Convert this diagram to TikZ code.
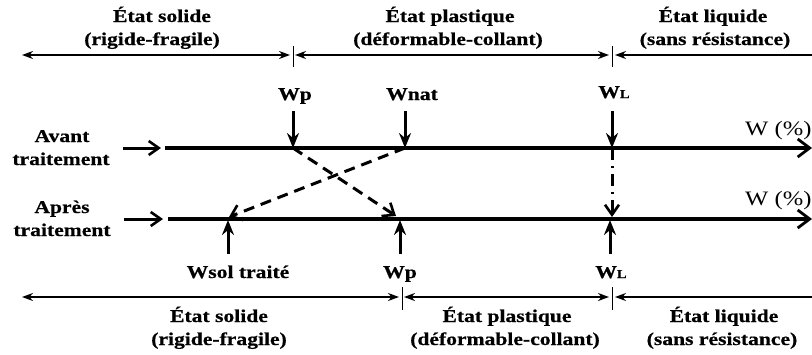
\documentclass[tikz,border=0pt]{standalone}
\usepackage{fontspec}
\setmainfont{Liberation Serif}[FakeStretch=1.2, BoldFeatures={FakeBold=0.6}]
\usetikzlibrary{arrows.meta}
\begin{document}
\begin{tikzpicture}[x=1pt,y=-1pt,
  txt/.style={font=\fontsize{18}{20}\selectfont\bfseries, inner sep=0pt, anchor=base},
  wtxt/.style={font=\fontsize{20.5}{22}\selectfont, inner sep=0pt, anchor=base west},
  axisline/.style={line width=4pt, -{Straight Barb[length=12pt,width=18pt,line width=2.8pt]}},
  statearr/.style={line width=1.8pt, {Stealth[length=11pt,width=8pt]}-{Stealth[length=11pt,width=8pt]}},
  leftstate/.style={line width=1.8pt, {Stealth[length=11pt,width=8pt]}-},
  tickline/.style={line width=1pt},
  markarr/.style={line width=3pt, -{Stealth[length=15pt,width=12pt,inset=5pt]}},
  inarr/.style={line width=3pt, -{Straight Barb[length=10pt,width=14pt,line width=2.6pt]}},
  dasharr/.style={line width=3pt, dash pattern=on 11pt off 7pt, -{Straight Barb[length=10pt,width=16pt,line width=2.6pt]}},
  dotarr/.style={line width=3pt, dash pattern=on 12pt off 6pt on 2pt off 6pt, -{Straight Barb[length=10pt,width=14pt,line width=2.6pt]}},
]
\useasboundingbox (0,0) rectangle (812,354);

% ---------- top state labels ----------
\node[txt] (ts1) at (162,22) {État solide};
\node[txt] (ts2) at (152,45) {(rigide-fragile)};
\node[txt] (tp1) at (450,22) {État plastique};
\node[txt] (tp2) at (448,45) {(déformable-collant)};
\node[txt] (tl1) at (713,22) {État liquide};
\node[txt] (tl2) at (715,45) {(sans résistance)};

\coordinate (tA) at (22,55);
\coordinate (tB) at (290,55);
\coordinate (tC) at (295,55);
\coordinate (tD) at (609,55);
\coordinate (tE) at (615,55);
\coordinate (tF) at (812,55);
\coordinate (tk1a) at (293,46); \coordinate (tk1b) at (293,67);
\coordinate (tk2a) at (612,46); \coordinate (tk2b) at (612,67);
\draw[statearr] (tA) -- (tB);
\draw[statearr] (tC) -- (tD);
\draw[leftstate] (tE) -- (tF);
\draw[tickline] (tk1a) -- (tk1b);
\draw[tickline] (tk2a) -- (tk2b);

% ---------- top markers ----------
\node[txt] (lWp) at (295,100) {Wp};
\node[txt] (lWnat) at (412,100) {Wnat};
\node[txt] (lWL) at (614,98) {W{\fontsize{12}{12}\selectfont L}};

\coordinate (mWpA) at (293,111);  \coordinate (pWp) at (293,148);
\coordinate (mWnA) at (405,111);  \coordinate (pWnat) at (405,148);
\coordinate (mWLA) at (612,111);  \coordinate (pWL) at (612,148);
\draw[markarr] (mWpA) -- (pWp);
\draw[markarr] (mWnA) -- (pWnat);
\draw[markarr] (mWLA) -- (pWL);

% ---------- axis 1 ----------
\node[txt] (av1) at (62,142) {Avant};
\node[txt] (av2) at (61,165) {traitement};
\coordinate (in1a) at (123,148); \coordinate (in1b) at (161,148);
\draw[inarr] (in1a) -- (in1b);
\coordinate (ax1s) at (165,148); \coordinate (ax1e) at (812,148);
\draw[axisline] (ax1s) -- (ax1e);
\node[wtxt] (w1) at (745,135) {W (\%)};

% ---------- axis 2 ----------
\node[txt] (ap1) at (62,213) {Après};
\node[txt] (ap2) at (62,236) {traitement};
\coordinate (in2a) at (124,219); \coordinate (in2b) at (163,219);
\draw[inarr] (in2a) -- (in2b);
\coordinate (ax2s) at (168,219); \coordinate (ax2e) at (812,219);
\draw[axisline] (ax2s) -- (ax2e);
\node[wtxt] (w2) at (745,205) {W (\%)};

% ---------- bottom markers ----------
\coordinate (qWs) at (228,220); \coordinate (bWsA) at (228,254);
\coordinate (qWp) at (400,220); \coordinate (bWpA) at (400,254);
\coordinate (qWL) at (610,220); \coordinate (bWLA) at (610,254);
\draw[markarr] (bWsA) -- (qWs);
\draw[markarr] (bWpA) -- (qWp);
\draw[markarr] (bWLA) -- (qWL);
\node[txt] (lWs) at (238,278) {Wsol traité};
\node[txt] (lWp2) at (400,278) {Wp};
\node[txt] (lWL2) at (611,278) {W{\fontsize{12}{12}\selectfont L}};

% ---------- transitions ----------
\coordinate (dWpEnd) at (396,216);
\coordinate (dWsEnd) at (229,217);
\coordinate (dWLEnd) at (612,217);
\draw[dasharr] (pWp) -- (dWpEnd);
\draw[dasharr] (pWnat) -- (dWsEnd);
\draw[dotarr] (pWL) -- (dWLEnd);

% ---------- bottom state labels ----------
\coordinate (bA) at (22,297);
\coordinate (bB) at (399,297);
\coordinate (bC) at (404,297);
\coordinate (bD) at (609,297);
\coordinate (bE) at (615,297);
\coordinate (bF) at (812,297);
\coordinate (bk1a) at (402,287); \coordinate (bk1b) at (402,310);
\coordinate (bk2a) at (612,287); \coordinate (bk2b) at (612,310);
\draw[statearr] (bA) -- (bB);
\draw[statearr] (bC) -- (bD);
\draw[leftstate] (bE) -- (bF);
\draw[tickline] (bk1a) -- (bk1b);
\draw[tickline] (bk2a) -- (bk2b);

\node[txt] (bs1) at (219,322) {État solide};
\node[txt] (bs2) at (219,345) {(rigide-fragile)};
\node[txt] (bp1) at (507,322) {État plastique};
\node[txt] (bp2) at (505,345) {(déformable-collant)};
\node[txt] (bl1) at (724,322) {État liquide};
\node[txt] (bl2) at (722,345) {(sans résistance)};
\end{tikzpicture}
\end{document}
